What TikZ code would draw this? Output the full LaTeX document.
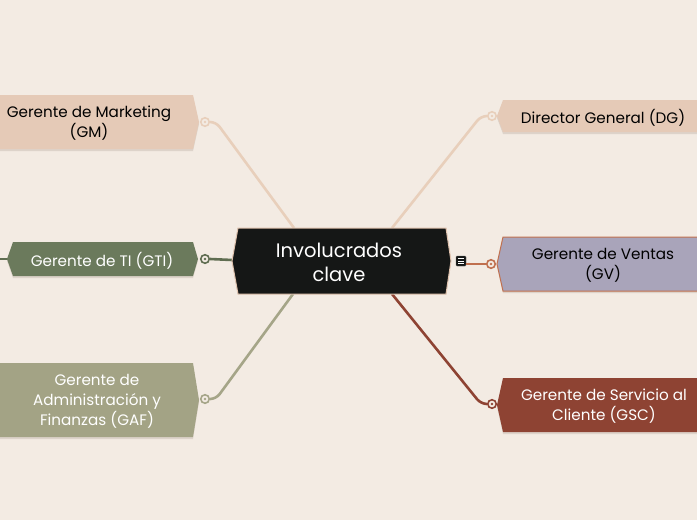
\documentclass[tikz,border=0pt]{standalone}
\usepackage{fontspec}
\setmainfont{Poppins}
\definecolor{bg}{HTML}{F3EBE3}
\definecolor{tanfill}{HTML}{E5CAB7}
\definecolor{tanline}{HTML}{E8CFBB}
\definecolor{gtifill}{HTML}{6B7A5C}
\definecolor{gtiline}{HTML}{5F6D51}
\definecolor{gaffill}{HTML}{A3A385}
\definecolor{gafline}{HTML}{A5A588}
\definecolor{gvfill}{HTML}{A9A4BA}
\definecolor{gvline}{HTML}{C0704F}
\definecolor{gscfill}{HTML}{8E4333}
\definecolor{gscline}{HTML}{8E4333}
\definecolor{cfill}{HTML}{151716}
\definecolor{cedge}{HTML}{E0C3AE}
\definecolor{shadowc}{HTML}{DDD3CA}
\tikzset{
  lbl/.style={align=center, font=\fontsize{15.2}{20}\selectfont, inner sep=0pt, yshift=-1.5pt},
  dot/.style={circle, draw=#1, line width=1.6pt, fill=bg, minimum size=8.5pt, inner sep=0pt,
    path picture={\fill[#1] (path picture bounding box.center) circle (1.3pt);}},
  conn/.style={line width=2.6pt, draw=#1, rounded corners=6pt},
}
\begin{document}
\begin{tikzpicture}[x=1pt,y=-1pt]
\fill[bg] (0,0) rectangle (697,520);
\useasboundingbox (0,0) rectangle (697,520);

% central anchors
\coordinate (ctl) at (294,228);
\coordinate (ctr) at (392,228);
\coordinate (cbl) at (293,294);
\coordinate (cbr) at (392,294);
\coordinate (cl) at (232,260);
\coordinate (gtiend) at (0,259);

% connector dots
\node[dot=tanline] (gmdot) at (205,122) {};
\node[dot=tanline] (dgdot) at (492,116) {};
\node[dot=gtiline] (gtidot) at (205,259) {};
\node[dot=gafline] (gafdot) at (205,399) {};
\node[dot=gvline] (gvdot) at (491,264) {};
\node[dot=gscline] (gscdot) at (492,404) {};

% connectors
\draw[conn=tanline] (gmdot.east) -- ++(6,0) -- (ctl);
\draw[conn=tanline] (dgdot.west) -- ++(-6,0) -- (ctr);
\draw[conn=gafline] (gafdot.east) -- ++(6,0) -- (cbl);
\draw[conn=gscline] (gscdot.west) -- ++(-6,0) -- (cbr);
\draw[conn=gtiline] (gtidot.east) -- (cl);

% shadows
\foreach \p in {
  {(-20,97) -- (193,97) -- (199,124) -- (193,151) -- (-20,151) -- cycle},
  {(503,102) -- (720,102) -- (720,134) -- (503,134) -- (497,118) -- cycle},
  {(13,244) -- (193,244) -- (198,261) -- (193,278) -- (13,278) -- (7,261) -- cycle},
  {(-20,365) -- (193,365) -- (199,402) -- (193,439) -- (-20,439) -- cycle},
  {(503,239) -- (720,239) -- (720,293) -- (503,293) -- (497,266) -- cycle},
  {(503,380) -- (720,380) -- (720,434) -- (503,434) -- (497,407) -- cycle}}
  {\fill[shadowc] \p;}

% shapes
\fill[tanfill] (-20,95) -- (193,95) -- (199,122) -- (193,149) -- (-20,149) -- cycle;
\fill[tanfill] (503,100) -- (720,100) -- (720,132) -- (503,132) -- (497,116) -- cycle;
\draw[gtiline, line width=2.6pt] (gtiend) -- (8,259);
\fill[gtifill] (13,242) -- (193,242) -- (198,259) -- (193,276) -- (13,276) -- (7,259) -- cycle;
\fill[gaffill] (-20,363) -- (193,363) -- (199,400) -- (193,437) -- (-20,437) -- cycle;
\filldraw[fill=gvfill, draw=gvline, line width=1pt] (503,237) -- (720,237) -- (720,291) -- (503,291) -- (497,264) -- cycle;
\fill[gscfill] (503,378) -- (720,378) -- (720,432) -- (503,432) -- (497,405) -- cycle;
\filldraw[fill=cfill, draw=cedge, line width=1pt] (238,228) -- (446,228) -- (451,261) -- (446,294) -- (238,294) -- (232,261) -- cycle;

% GV connector with icon
\node[fill=cfill, draw=cfill!70, rounded corners=1pt, minimum size=10pt, inner sep=0pt] (icon) at (461,261) {};
\foreach \dy in {-2.3,0,2.3} \draw[white, line width=0.8pt] ([xshift=-2.6pt, yshift=\dy pt]icon.center) -- ++(5.2,0);
\draw[line width=2.6pt, gvline] (icon.east |- gvdot) -- (gvdot.west);

% texts
\node[lbl, text=black] (gm) at (89,122) {Gerente de Marketing\\(GM)};
\node[lbl, text=black] (dg) at (603,116) {Director General (DG)};
\node[lbl, text=white] (gti) at (102,259) {Gerente de TI (GTI)};
\node[lbl, text=white] (gaf) at (97,400) {Gerente de\\Administración y\\Finanzas (GAF)};
\node[lbl, text=black] (gv) at (603,264) {Gerente de Ventas\\(GV)};
\node[lbl, text=white] (gsc) at (604,405) {Gerente de Servicio al\\Cliente (GSC)};
\node[align=center, font=\fontsize{19.5}{24}\selectfont, text=white, inner sep=0pt, yshift=-1.5pt] (center) at (339,261) {Involucrados\\clave};
\end{tikzpicture}
\end{document}
